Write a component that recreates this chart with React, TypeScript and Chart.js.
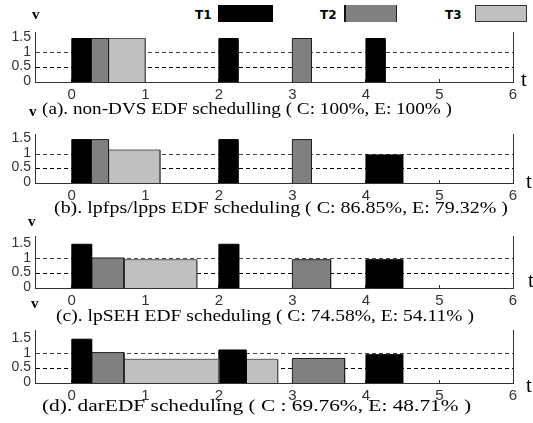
import React, { useEffect, useRef } from 'react';
import { Chart, registerables } from 'chart.js';

Chart.register(...registerables);

// ---------------- data ----------------
const TASKS = ['T1', 'T2', 'T3'];
const TASK_FILL = ['#000000', '#808080', '#c0c0c0'];
const TASK_EDGE = ['#000000', '#1e1e1e', '#5a5a5a'];
const X_TICKS = [0, 1, 2, 3, 4, 5, 6];
const Y_TICKS = [0, 0.5, 1, 1.5];

// each segment: [task index, start time, end time, speed v]
const SCHED_A = [
  [0, 0, 0.26, 1.5],
  [1, 0.26, 0.5, 1.5],
  [2, 0.5, 1.0, 1.5],
  [0, 2, 2.26, 1.5],
  [1, 3, 3.26, 1.5],
  [0, 4, 4.26, 1.5],
];
const SCHED_B = [
  [0, 0, 0.26, 1.5],
  [1, 0.26, 0.5, 1.5],
  [2, 0.5, 1.2, 1.14],
  [0, 2, 2.26, 1.5],
  [1, 3, 3.26, 1.5],
  [0, 4, 4.5, 0.97],
];
const SCHED_C = [
  [0, 0, 0.27, 1.5],
  [1, 0.27, 0.71, 1.03],
  [2, 0.71, 1.7, 0.97],
  [0, 2, 2.27, 1.5],
  [1, 3, 3.52, 0.97],
  [0, 4, 4.5, 0.97],
];
const SCHED_D = [
  [0, 0, 0.27, 1.5],
  [1, 0.27, 0.71, 1.04],
  [2, 0.71, 2.0, 0.81],
  [0, 2, 2.37, 1.13],
  [2, 2.37, 2.8, 0.81],
  [1, 3, 3.71, 0.84],
  [0, 4, 4.5, 0.97],
];

const TITLES = [
  '(a). non-DVS EDF schedulling ( C: 100%, E: 100% )',
  '(b). lpfps/lpps EDF scheduling ( C: 86.85%, E: 79.32% )',
  '(c). lpSEH EDF scheduling ( C: 74.58%, E: 54.11% )',
  '(d). darEDF scheduling ( C : 69.76%, E: 48.71% )',
];

// ---------------- layout ----------------
const W = 533;
const PAD_TOP = 12;
const X_AXIS_H = 24;
const Y_AXIS_W = 35;
const RIGHT_PAD = 20;

const PANELS = [
  { sched: SCHED_A, top: 32, bottom: 82, ymax: 1.71, title: { left: 42, right: 452, top: 100 }, v: { left: 32, top: 7 }, t: { left: 521, top: 69 } },
  { sched: SCHED_B, top: 134, bottom: 183, ymax: 1.68, title: { left: 54, right: 508, top: 199 }, v: { left: 29, top: 104 }, t: { left: 526, top: 171 } },
  { sched: SCHED_C, top: 236, bottom: 288, ymax: 1.77, title: { left: 56, right: 474, top: 307 }, v: { left: 28, top: 214 }, t: { left: 528, top: 270 } },
  { sched: SCHED_D, top: 330, bottom: 383, ymax: 1.8, title: { left: 42, right: 471, top: 397 }, v: { left: 31, top: 296 }, t: { left: 526, top: 375 } },
];

const LEGEND_POS = [
  { text: 195, box: [218, 273] },
  { text: 320, box: [344, 397] },
  { text: 445, box: [475, 527] },
];

const SANS = '"Liberation Sans", Arial, sans-serif';
const SERIF = '"Liberation Serif", "Times New Roman", serif';

function measure(text: string, font: string): number {
  const c = document.createElement('canvas').getContext('2d');
  if (!c) return 1;
  c.font = font;
  return c.measureText(text).width || 1;
}

function Panel({ cfg }: { cfg: any }) {
  const ref = useRef<HTMLCanvasElement | null>(null);
  const h = PAD_TOP + (cfg.bottom - cfg.top) + X_AXIS_H;

  useEffect(() => {
    if (!ref.current) return;
    const datasets = cfg.sched.map(([k, s, e, v]: number[]) => ({
      type: 'line',
      label: TASKS[k],
      data: [
        { x: s, y: 0 },
        { x: s, y: v },
        { x: e, y: v },
        { x: e, y: 0 },
      ],
      backgroundColor: TASK_FILL[k],
      borderColor: TASK_EDGE[k],
      borderWidth: 1,
      fill: 'origin',
      pointRadius: 0,
      tension: 0,
      borderJoinStyle: 'miter',
    }));
    const chart = new Chart(ref.current, {
      type: 'line',
      data: { datasets } as any,
      options: {
        animation: false,
        responsive: false,
        maintainAspectRatio: false,
        events: [],
        layout: { padding: { top: PAD_TOP, right: RIGHT_PAD, left: 0, bottom: 0 } },
        plugins: {
          legend: { display: false },
          tooltip: { enabled: false },
          title: { display: false },
        },
        scales: {
          x: {
            type: 'linear',
            min: -0.5,
            max: 6,
            afterBuildTicks: (s: any) => {
              s.ticks = X_TICKS.map((value) => ({ value }));
            },
            afterFit: (s: any) => {
              s.height = X_AXIS_H;
            },
            grid: {
              display: true,
              drawOnChartArea: false,
              drawTicks: true,
              tickLength: -3,
              tickColor: '#333',
              color: '#333',
            },
            border: { display: true, color: '#333', width: 1 },
            ticks: {
              font: { family: SANS, size: 15 },
              color: '#333',
              padding: 7,
              maxRotation: 0,
              autoSkip: false,
              callback: (v: any) => String(v),
            },
          },
          y: {
            type: 'linear',
            min: 0,
            max: cfg.ymax,
            afterBuildTicks: (s: any) => {
              s.ticks = Y_TICKS.map((value) => ({ value }));
            },
            afterFit: (s: any) => {
              s.width = Y_AXIS_W;
            },
            grid: {
              drawTicks: false,
              lineWidth: 1,
              color: (ctx: any) => {
                const v = ctx.tick ? ctx.tick.value : -1;
                if (v === 0.5) return '#000';
                if (v === 1) return '#444';
                return 'rgba(0,0,0,0)';
              },
            },
            border: { display: true, color: '#333', width: 1, dash: [4, 3] },
            ticks: {
              font: { family: SANS, size: 14 },
              color: '#333',
              padding: 4,
              labelOffset: -1,
              autoSkip: false,
              callback: (v: any) => String(v),
            },
          },
          y2: {
            type: 'linear',
            position: 'right',
            min: 0,
            max: cfg.ymax,
            afterFit: (s: any) => {
              s.width = 0;
            },
            grid: { display: false, drawTicks: false },
            ticks: { display: false },
            border: { display: true, color: '#333', width: 1 },
          },
        },
      } as any,
    });
    return () => chart.destroy();
  }, []);

  return (
    <canvas
      ref={ref}
      width={W}
      height={h}
      style={{ position: 'absolute', left: 0, top: cfg.top - PAD_TOP, width: W, height: h }}
    />
  );
}

export default function App() {
  const titleFont = `17px ${SERIF}`;
  return (
    <div
      style={{
        position: 'absolute',
        left: 0,
        top: 0,
        width: W,
        height: 423,
        overflow: 'hidden',
        background: '#fff',
      }}
    >
      {TASKS.map((name, i) => {
        const p = LEGEND_POS[i];
        const border =
          i === 0
            ? { border: 'none' }
            : i === 1
            ? { borderLeft: '2px solid #111', borderRight: '1px solid #222', borderTop: 'none', borderBottom: 'none' }
            : { border: '1px solid #333' };
        return (
          <React.Fragment key={name}>
            <span
              style={{
                position: 'absolute',
                left: p.text,
                top: 9,
                font: `bold 12px "DejaVu Sans", sans-serif`,
                lineHeight: '12px',
                whiteSpace: 'nowrap',
                color: '#000',
              }}
            >
              {name}
            </span>
            <div
              style={{
                position: 'absolute',
                left: p.box[0],
                top: 5,
                width: p.box[1] - p.box[0],
                height: 17,
                boxSizing: 'border-box',
                background: TASK_FILL[i],
                ...border,
              }}
            />
          </React.Fragment>
        );
      })}

      {PANELS.map((cfg, i) => {
        const tw = measure(TITLES[i], titleFont);
        const sx = (cfg.title.right - cfg.title.left) / tw;
        return (
          <React.Fragment key={i}>
            <Panel cfg={cfg} />
            <span
              style={{
                position: 'absolute',
                left: cfg.v.left,
                top: cfg.v.top,
                font: `bold 15px ${SERIF}`,
                lineHeight: '15px',
                color: '#000',
              }}
            >
              v
            </span>
            <span
              style={{
                position: 'absolute',
                left: cfg.t.left,
                top: cfg.t.top,
                font: `21px ${SERIF}`,
                lineHeight: '21px',
                color: '#000',
              }}
            >
              t
            </span>
            <div
              style={{
                position: 'absolute',
                left: cfg.title.left,
                top: cfg.title.top,
                font: titleFont,
                lineHeight: '17px',
                whiteSpace: 'nowrap',
                color: '#000',
                transform: `scaleX(${sx})`,
                transformOrigin: 'left top',
              }}
            >
              {TITLES[i]}
            </div>
          </React.Fragment>
        );
      })}
    </div>
  );
}
